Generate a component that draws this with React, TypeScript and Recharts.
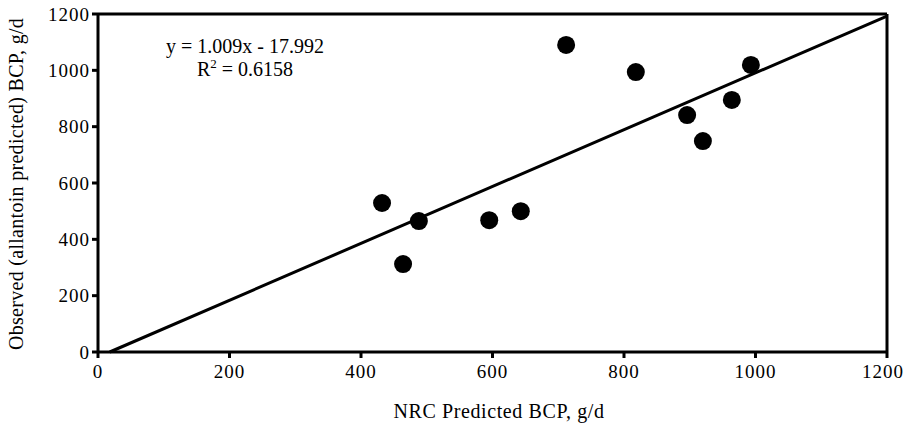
import React from "react";
import {
  ScatterChart,
  Scatter,
  XAxis,
  YAxis,
  ReferenceLine,
  Customized,
} from "recharts";

// NRC predicted vs observed (allantoin) BCP, g/d
const nrcPredicted = [432, 464, 488, 595, 643, 712, 818, 896, 920, 964, 993];
const observed = [529, 312, 465, 468, 500, 1090, 994, 841, 749, 895, 1019];

const xTicks = [0, 200, 400, 600, 800, 1000, 1200];
const yTicks = [0, 200, 400, 600, 800, 1000, 1200];

const slope = 1.009;
const intercept = -17.992;
const rSquared = "0.6158";

const points = nrcPredicted.map((x, i) => ({ x, y: observed[i] }));

const FONT = "Liberation Serif";

const Dot = (props: any) => <circle cx={props.cx} cy={props.cy} r={9} fill="#000" />;

const Annotations = () => (
  <g style={{ fontFamily: FONT }} fill="#000">
    <text x={245} y={53} fontSize={20} textAnchor="middle">
      {`y = ${slope}x - ${Math.abs(intercept)}`}
    </text>
    <text x={245} y={76} fontSize={20} textAnchor="middle">
      R<tspan dy={-8} fontSize={13}>2</tspan>
      <tspan dy={8}>{` = ${rSquared}`}</tspan>
    </text>
    <text x={499} y={418} fontSize={20} textAnchor="middle" letterSpacing={0.6}>
      NRC Predicted BCP, g/d
    </text>
    <text
      x={16}
      y={184}
      fontSize={20}
      textAnchor="middle"
      dominantBaseline="central"
      letterSpacing={0.3}
      transform="rotate(-90 16 184)"
    >
      Observed (allantoin predicted) BCP, g/d
    </text>
  </g>
);

export default function App() {
  const tickStyle = { fill: "#000", fontSize: 19, style: { fontFamily: FONT }, letterSpacing: 1 };
  const xStart = -intercept / slope;
  return (
    <div style={{ position: "absolute", left: 0, top: 0, background: "#fff", fontFamily: FONT }}>
      <ScatterChart width={904} height={424} margin={{ top: 14, right: 17, left: 38, bottom: 32 }}>
        <XAxis
          type="number"
          dataKey="x"
          domain={[0, 1200]}
          ticks={xTicks}
          tick={tickStyle}
          tickSize={6}
          tickMargin={7}
          height={40}
          axisLine={{ stroke: "#000", strokeWidth: 3 }}
          tickLine={{ stroke: "#000", strokeWidth: 3 }}
          allowDataOverflow
        />
        <YAxis
          type="number"
          dataKey="y"
          domain={[0, 1200]}
          ticks={yTicks}
          tick={tickStyle}
          tickSize={6}
          tickMargin={2}
          width={60}
          axisLine={{ stroke: "#000", strokeWidth: 3 }}
          tickLine={{ stroke: "#000", strokeWidth: 3 }}
          allowDataOverflow
        />
        <ReferenceLine y={1200} stroke="#000" strokeWidth={3} />
        <ReferenceLine x={1200} stroke="#000" strokeWidth={3} />
        <ReferenceLine
          segment={[
            { x: xStart, y: 0 },
            { x: 1200, y: slope * 1200 + intercept },
          ]}
          stroke="#000"
          strokeWidth={3}
          ifOverflow="visible"
        />
        <Scatter data={points} shape={<Dot />} isAnimationActive={false} />
        <Customized component={<Annotations />} />
      </ScatterChart>
    </div>
  );
}
